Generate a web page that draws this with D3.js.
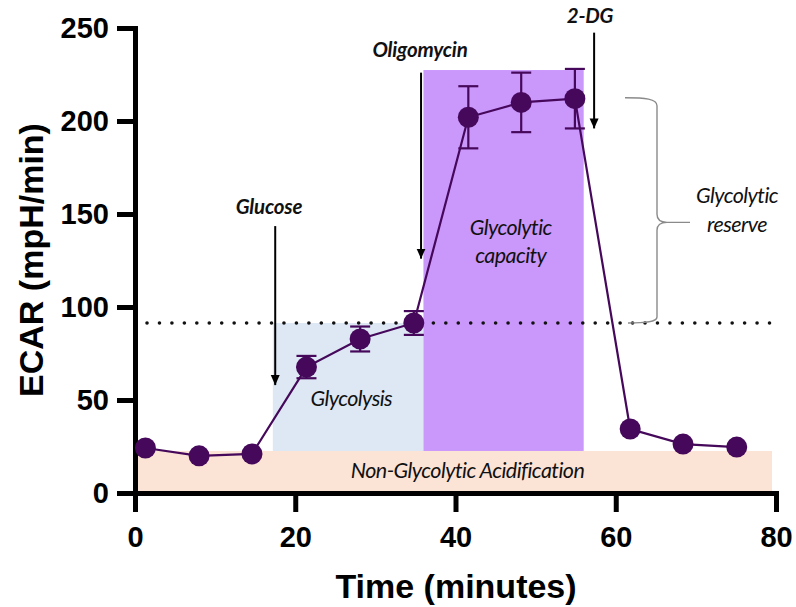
<!DOCTYPE html>
<html>
<head>
<meta charset="utf-8">
<script src="https://cdn.jsdelivr.net/npm/d3@7"></script>
<style>
  html, body { margin: 0; padding: 0; background: #fff; }
  svg { display: block; }
  .tick text { font-family: "Liberation Sans", Arial, sans-serif; font-weight: bold; font-size: 29px; fill: #000; }
  .note { font-family: Lato, "Open Sans", sans-serif; font-style: italic; fill: #111; }
</style>
</head>
<body>
<svg id="chart" width="796" height="607"></svg>
<script>
// Seahorse glycolysis stress test: ECAR over time
const times = [1.3, 8.0, 14.6, 21.4, 28.1, 34.8, 41.6, 48.2, 54.9, 61.8, 68.4, 75.1];
const ecar  = [24.2, 20.0, 21.0, 67.7, 82.8, 91.4, 202.0, 210.0, 212.0, 34.4, 26.3, 24.7];
const sem   = [0, 0, 0, 6.0, 6.7, 6.4, 16.7, 16.0, 16.0, 0, 0, 0];

const xTicks = [0, 20, 40, 60, 80];
const yTicks = [0, 50, 100, 150, 200, 250];

// shaded phases: [x0, x1, y0, y1]
const nonGlycolytic = [0.3, 79.5, 0, 22.6];
const glycolysisBox = [17.2, 36.0, 22.6, 91.4];
const capacityBox   = [36.0, 56.0, 22.6, 227.4];
const basalLevel = 91.4;

// injections: label, time, arrow top value, arrow tip value
const injections = [
  { name: "Glucose",    t: 17.5, top: 143.5, tip: 58 },
  { name: "Oligomycin", t: 35.7, top: 226,   tip: 126 },
  { name: "2-DG",       t: 57.3, top: 247.5, tip: 196 }
];

const svg = d3.select("#chart");
const x = d3.scaleLinear().domain([0, 80]).range([135, 776]);
const y = d3.scaleLinear().domain([0, 250]).range([493, 28]);

// phase shading
function box(b, fill) {
  svg.append("rect")
    .attr("x", x(b[0])).attr("y", y(b[3]))
    .attr("width", x(b[1]) - x(b[0])).attr("height", y(b[2]) - y(b[3]))
    .attr("fill", fill);
}
box(nonGlycolytic, "#fbe4d6");
box(glycolysisBox, "#dde8f4");
box(capacityBox, "#ca97fb");

// basal glycolysis reference line
svg.append("line")
  .attr("x1", x(1.5)).attr("x2", x(79.2))
  .attr("y1", y(basalLevel)).attr("y2", y(basalLevel))
  .attr("stroke", "#111").attr("stroke-width", 3.6)
  .attr("stroke-linecap", "round").attr("stroke-dasharray", "0,12.45");

// region labels
function note(tx, ty, str) {
  svg.append("text").attr("class", "note").attr("x", tx).attr("y", ty)
    .attr("text-anchor", "middle").attr("font-size", 21.5).attr("letter-spacing", -0.55)
    .text(str);
}
note(x(41.5), 478, "Non-Glycolytic Acidification");
note(x(27), 406, "Glycolysis");
note(x(46.9), 235, "Glycolytic");
note(x(46.9), 263, "capacity");
note(737, 203, "Glycolytic");
note(737, 232, "reserve");

// curly brace spanning the reserve (basal to capacity)
const bTop = y(212.5), bBot = y(basalLevel), bMid = (bTop + bBot) / 2 + 12;
const bx = 657;
svg.append("path")
  .attr("d", `M625,${bTop} C645,${bTop} ${bx},${bTop + 1} ${bx},${bTop + 8}
              L${bx},${bMid - 8} C${bx},${bMid - 2} ${bx + 4},${bMid} ${bx + 10},${bMid}
              L${bx + 33},${bMid}
              M${bx + 10},${bMid} C${bx + 4},${bMid} ${bx},${bMid + 2} ${bx},${bMid + 8}
              L${bx},${bBot - 6} C${bx},${bBot - 1} 645,${bBot} 628,${bBot}`)
  .attr("fill", "none").attr("stroke", "#8a8a8a").attr("stroke-width", 1.4);

// injection arrows
svg.append("defs").append("marker")
  .attr("id", "head").attr("viewBox", "0 0 10 10")
  .attr("refX", 10).attr("refY", 5)
  .attr("markerWidth", 10).attr("markerHeight", 10)
  .attr("markerUnits", "userSpaceOnUse").attr("orient", "auto")
  .append("path").attr("d", "M0,0.5 L10,5 L0,9.5 Z").attr("fill", "#000");

injections.forEach(d => {
  svg.append("line")
    .attr("x1", x(d.t)).attr("x2", x(d.t))
    .attr("y1", y(d.top)).attr("y2", y(d.tip))
    .attr("stroke", "#000").attr("stroke-width", 2)
    .attr("marker-end", "url(#head)");
});
function drug(tx, ty, str) {
  svg.append("text").attr("class", "note").attr("x", tx).attr("y", ty)
    .attr("text-anchor", "middle").attr("font-size", 20.5).attr("font-weight", "bold")
    .attr("letter-spacing", -0.2)
    .text(str);
}
drug(269, 214, "Glucose");
drug(420, 57, "Oligomycin");
drug(590, 23, "2-DG");

// axes
const yAxis = d3.axisLeft(y).tickValues(yTicks).tickSize(18).tickSizeOuter(0).tickPadding(8);
const xAxis = d3.axisBottom(x).tickValues(xTicks).tickSize(19).tickSizeOuter(0).tickPadding(14);

const gy = svg.append("g").attr("transform", `translate(${x(0)},0)`).call(yAxis);
const gx = svg.append("g").attr("transform", `translate(0,${y(0)})`).call(xAxis);
[gy, gx].forEach(g => {
  g.select(".domain").attr("stroke", "#000").attr("stroke-width", 5).attr("stroke-linecap", "square");
  g.selectAll(".tick line").attr("stroke", "#000").attr("stroke-width", 5);
});

// axis titles
svg.append("text")
  .attr("transform", `translate(43,260) rotate(-90)`)
  .attr("text-anchor", "middle")
  .attr("font-family", "'Liberation Sans', Arial, sans-serif")
  .attr("font-weight", "bold").attr("font-size", 34)
  .text("ECAR (mpH/min)");
svg.append("text")
  .attr("x", 456).attr("y", 598)
  .attr("text-anchor", "middle")
  .attr("font-family", "'Liberation Sans', Arial, sans-serif")
  .attr("font-weight", "bold").attr("font-size", 34)
  .text("Time (minutes)");

// data series
const col = "#45085a";
const pts = times.map((t, i) => ({ t, v: ecar[i], e: sem[i] }));

svg.append("path").datum(pts)
  .attr("d", d3.line().x(d => x(d.t)).y(d => y(d.v)))
  .attr("fill", "none").attr("stroke", col).attr("stroke-width", 2.2);

const eb = svg.append("g").attr("stroke", col).attr("stroke-width", 2.2);
pts.filter(d => d.e > 0).forEach(d => {
  eb.append("line").attr("x1", x(d.t)).attr("x2", x(d.t)).attr("y1", y(d.v - d.e)).attr("y2", y(d.v + d.e));
  [d.v - d.e, d.v + d.e].forEach(v => {
    eb.append("line").attr("x1", x(d.t) - 10).attr("x2", x(d.t) + 10).attr("y1", y(v)).attr("y2", y(v));
  });
});

svg.append("g").selectAll("circle").data(pts).join("circle")
  .attr("cx", d => x(d.t)).attr("cy", d => y(d.v)).attr("r", 10.5)
  .attr("fill", col);
</script>
</body>
</html>
